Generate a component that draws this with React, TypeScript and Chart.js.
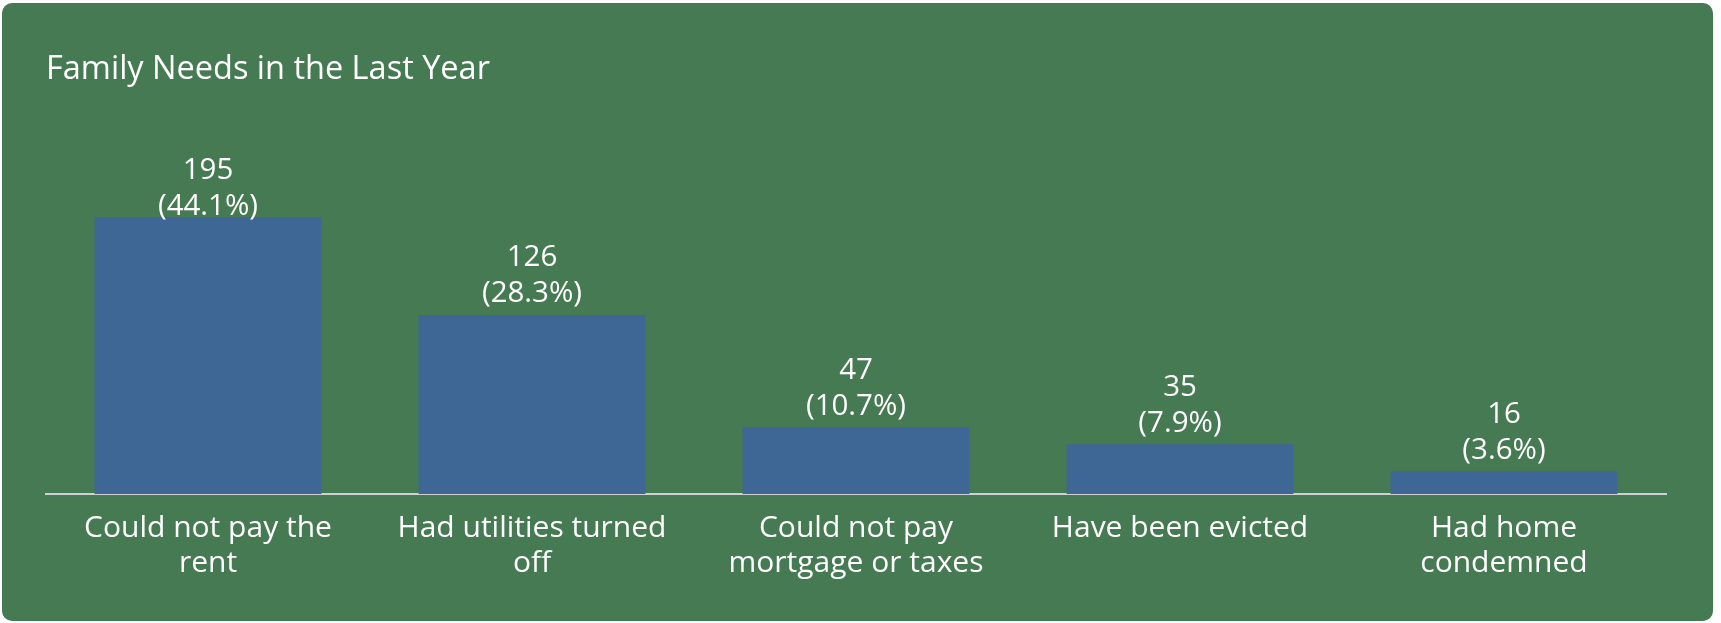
import React, { useEffect, useRef } from "react";
import { Chart, registerables } from "chart.js";

Chart.register(...registerables);

const titleText = "Family Needs in the Last Year";
const categories: (string | string[])[] = [
  ["Could not pay the", "rent"],
  ["Had utilities turned", "off"],
  ["Could not pay", "mortgage or taxes"],
  "Have been evicted",
  ["Had home", "condemned"],
];
const counts = [195, 126, 47, 35, 16];
const percents = ["44.1%", "28.3%", "10.7%", "7.9%", "3.6%"];

const FONT = "'Open Sans', 'Noto Sans', sans-serif";
const LABEL_SIZE = 29.5;
const LABEL_LINE = 36;

const valueLabels = {
  id: "valueLabels",
  afterDatasetsDraw(chart: any) {
    const ctx = chart.ctx;
    const meta = chart.getDatasetMeta(0);
    const top = chart.chartArea.top;
    ctx.save();
    ctx.fillStyle = "#ffffff";
    ctx.font = `${LABEL_SIZE}px ${FONT}`;
    ctx.textAlign = "center";
    ctx.textBaseline = "middle";
    meta.data.forEach((bar: any, i: number) => {
      let line2 = bar.y - 21;
      let line1 = line2 - LABEL_LINE;
      const minLine1 = top + LABEL_LINE / 2;
      if (line1 < minLine1) {
        const d = minLine1 - line1;
        line1 += d;
        line2 += d;
      }
      ctx.fillText(String(counts[i]), bar.x, line1);
      ctx.fillText(`(${percents[i]})`, bar.x, line2);
    });
    ctx.restore();
  },
};

export default function App() {
  const ref = useRef<HTMLCanvasElement | null>(null);
  useEffect(() => {
    document.body.style.margin = "0";
    const chart = new Chart(ref.current!, {
      type: "bar",
      data: {
        labels: categories,
        datasets: [
          {
            data: counts,
            backgroundColor: "#3e6796",
            borderWidth: 0,
            barPercentage: 0.7,
            categoryPercentage: 1,
          },
        ],
      },
      options: {
        animation: false,
        responsive: false,
        layout: { padding: { left: 44, right: 47, top: 0, bottom: 0 } },
        plugins: {
          legend: { display: false },
          tooltip: { enabled: false },
          title: {
            display: true,
            text: titleText,
            align: "start",
            color: "#ffffff",
            font: { family: FONT, size: 32.5, weight: "normal", lineHeight: 1.2 },
            padding: { top: 47, bottom: 64 },
          },
        },
        scales: {
          x: {
            grid: { display: false, drawTicks: false },
            border: { display: true, color: "#d0d0d0", width: 2 },
            ticks: {
              color: "#ffffff",
              font: { family: FONT, size: 30, lineHeight: 35 / 30 },
              padding: 17,
              maxRotation: 0,
              autoSkip: false,
            },
            afterFit(scale: any) {
              scale.height = 127;
            },
          },
          y: {
            display: false,
            min: 0,
            max: 240,
          },
        },
      },
      plugins: [valueLabels],
    });
    return () => chart.destroy();
  }, []);

  return (
    <div style={{ position: "absolute", left: 0, top: 0, width: 1721, height: 623, background: "#ffffff" }}>
      <div
        style={{
          position: "absolute",
          left: 2,
          top: 3,
          width: 1711,
          height: 618,
          background: "#457a52",
          borderRadius: 10,
          overflow: "hidden",
        }}
      >
        <canvas ref={ref} width={1711} height={618} style={{ display: "block" }} />
      </div>
    </div>
  );
}
